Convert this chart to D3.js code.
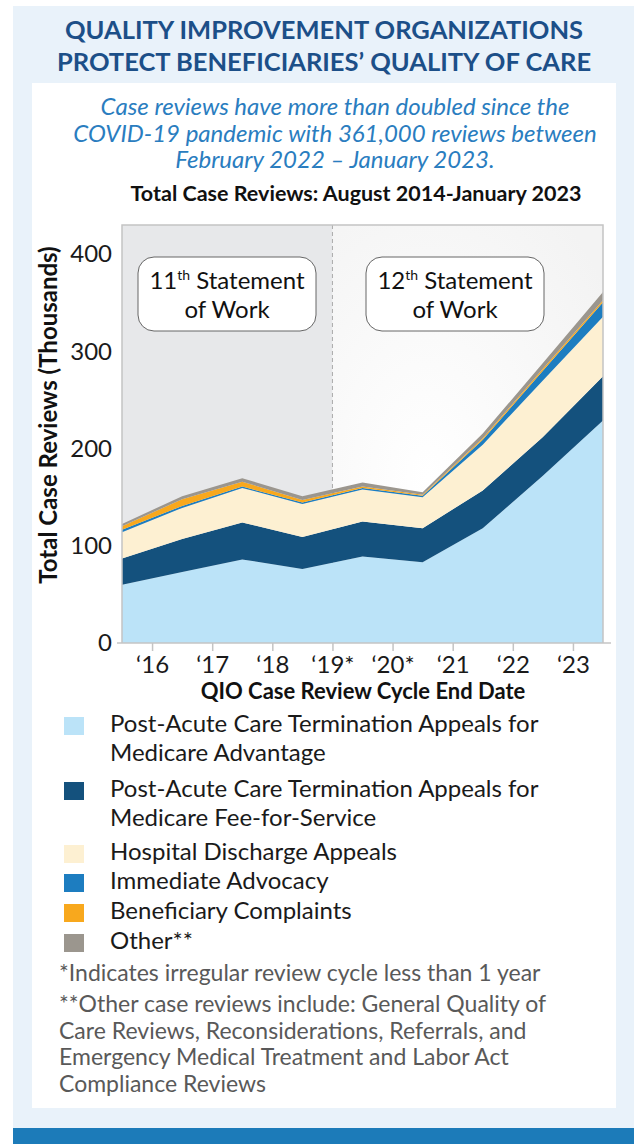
<!DOCTYPE html>
<html>
<head>
<meta charset="utf-8">
<script src="https://cdn.jsdelivr.net/npm/d3@7"></script>
<style>
  body { margin: 0; background: #fff; }
  text { font-family: Lato, "Open Sans", sans-serif; }
</style>
</head>
<body>
<div id="chart"></div>
<script>
// Chart data (thousands of case reviews per cycle)
var xTickLabels = ["\u201816", "\u201817", "\u201818", "\u201819*", "\u201820*", "\u201821", "\u201822", "\u201823"];
var medicareAdvantage = [60, 73, 86, 76, 89, 83, 118, 172, 229];
var feeForService = [27, 34, 38, 33, 36, 35, 39, 40, 45.5];
var dischargeAppeals = [27, 32, 35.5, 34, 33, 32, 47, 58, 61];
var immediateAdvocacy = [2.5, 2, 1.5, 1.5, 1.5, 1.5, 5, 10, 15];
var beneficiaryComplaints = [3.5, 7, 5, 2.5, 1.5, 1, 1.5, 2, 2];
var otherReviews = [2.5, 3, 3.5, 4, 4, 2.5, 5, 6, 8.5];
var yTicks = [0, 100, 200, 300, 400];

var seriesKeys = ["ma", "ffs", "hda", "ia", "bc", "other"];
var seriesColors = ["#bbe3f8", "#14517d", "#fdf0d2", "#1d7dc0", "#f8a81d", "#9b968e"];
var legendLabels = [
  ["Post-Acute Care Termination Appeals for", "Medicare Advantage"],
  ["Post-Acute Care Termination Appeals for", "Medicare Fee-for-Service"],
  ["Hospital Discharge Appeals"],
  ["Immediate Advocacy"],
  ["Beneficiary Complaints"],
  ["Other**"]
];

var rows = medicareAdvantage.map(function(d, i) {
  return {
    idx: i,
    ma: d,
    ffs: feeForService[i],
    hda: dischargeAppeals[i],
    ia: immediateAdvocacy[i],
    bc: beneficiaryComplaints[i],
    other: otherReviews[i]
  };
});

var svgWidth = 634;
var svgHeight = 1144;

var svg = d3
  .select("#chart")
  .append("svg")
  .attr("width", svgWidth)
  .attr("height", svgHeight);

var defs = svg.append("defs");
var glow = defs
  .append("radialGradient")
  .attr("id", "glow")
  .attr("cx", "35%")
  .attr("cy", "60%")
  .attr("r", "80%");
glow.append("stop").attr("offset", "0%").attr("stop-color", "#ffffff");
glow.append("stop").attr("offset", "100%").attr("stop-color", "#f3f3f3");

// background panels
svg.append("rect")
  .attr("x", 13).attr("y", 6)
  .attr("width", svgWidth - 13).attr("height", 1122)
  .attr("fill", "#e9f2fa");
svg.append("rect")
  .attr("x", 13).attr("y", 1128)
  .attr("width", svgWidth - 13).attr("height", 16)
  .attr("fill", "#1c7bb9");
svg.append("rect")
  .attr("x", 32).attr("y", 83)
  .attr("width", 584).attr("height", 1025)
  .attr("fill", "#ffffff");

// headline
svg.selectAll(".headline")
  .data(["QUALITY IMPROVEMENT ORGANIZATIONS", "PROTECT BENEFICIARIES\u2019 QUALITY OF CARE"])
  .enter()
  .append("text")
  .attr("x", 324)
  .attr("y", function(d, i) { return 39 + i * 31.5; })
  .attr("text-anchor", "middle")
  .attr("font-size", 25.5)
  .attr("font-weight", "bold")
  .attr("fill", "#1c4f88")
  .text(function(d) { return d; });

svg.selectAll(".subhead")
  .data([
    "Case reviews have more than doubled since the",
    "COVID-19 pandemic with 361,000 reviews between",
    "February 2022 \u2013 January 2023."
  ])
  .enter()
  .append("text")
  .attr("x", 335)
  .attr("y", function(d, i) { return 115 + i * 26.5; })
  .attr("text-anchor", "middle")
  .attr("font-size", 24)
  .attr("font-style", "italic")
  .attr("fill", "#2a7dbf")
  .text(function(d) { return d; });

svg.append("text")
  .attr("x", 356)
  .attr("y", 201)
  .attr("text-anchor", "middle")
  .attr("font-size", 21.5)
  .attr("font-weight", "bold")
  .attr("fill", "#111")
  .text("Total Case Reviews: August 2014-January 2023");

// chart area
var plot = { left: 122, right: 603, top: 225, bottom: 643 };

var xScale = d3.scaleLinear().domain([0, 8]).range([plot.left, plot.right]);
var yScale = d3.scaleLinear().domain([0, 430]).range([plot.bottom, plot.top]);

var chartGroup = svg.append("g");

// 11th SOW shaded part and 12th SOW part
chartGroup.append("rect")
  .attr("x", xScale(3.5)).attr("y", plot.top)
  .attr("width", plot.right - xScale(3.5)).attr("height", plot.bottom - plot.top)
  .attr("fill", "url(#glow)");
chartGroup.append("rect")
  .attr("x", plot.left).attr("y", plot.top)
  .attr("width", xScale(3.5) - plot.left).attr("height", plot.bottom - plot.top)
  .attr("fill", "#e7e8ea");

// dashed divider between statements of work (hidden under the areas)
chartGroup.append("line")
  .attr("x1", xScale(3.5)).attr("x2", xScale(3.5))
  .attr("y1", plot.top).attr("y2", plot.bottom)
  .attr("stroke", "#aaa")
  .attr("stroke-dasharray", "4,3");

var stacked = d3.stack().keys(seriesKeys)(rows);

var area = d3.area()
  .x(function(d) { return xScale(d.data.idx); })
  .y0(function(d) { return yScale(d[0]); })
  .y1(function(d) { return yScale(d[1]); });

chartGroup.selectAll(".layer")
  .data(stacked)
  .enter()
  .append("path")
  .attr("class", "layer")
  .attr("d", area)
  .attr("fill", function(d, i) { return seriesColors[i]; });

// plot frame
chartGroup.append("path")
  .attr("d", "M" + plot.left + "," + plot.bottom + "V" + plot.top + "H" + plot.right + "V" + plot.bottom)
  .attr("fill", "none")
  .attr("stroke", "#c4c4c4")
  .attr("stroke-width", 1.5);
chartGroup.append("line")
  .attr("x1", plot.left - 5).attr("x2", plot.right + 8)
  .attr("y1", plot.bottom).attr("y2", plot.bottom)
  .attr("stroke", "#c4c4c4")
  .attr("stroke-width", 1.5);

// axes
var leftAxis = d3.axisLeft(yScale).tickValues(yTicks).tickSize(0).tickPadding(10);
var yAxis = chartGroup.append("g")
  .attr("transform", "translate(" + plot.left + ",0)")
  .call(leftAxis);
yAxis.select(".domain").remove();
yAxis.selectAll("text")
  .attr("font-size", 24)
  .attr("fill", "#1a1a1a")
  .style("font-family", "Lato, sans-serif");

var bottomAxis = d3.axisBottom(xScale)
  .tickValues(d3.range(0.5, 8, 1))
  .tickFormat(function(d, i) { return xTickLabels[i]; })
  .tickSize(8)
  .tickPadding(5);
var xAxis = chartGroup.append("g")
  .attr("transform", "translate(0," + plot.bottom + ")")
  .call(bottomAxis);
xAxis.select(".domain").remove();
xAxis.selectAll("line").attr("stroke", "#c4c4c4").attr("stroke-width", 1.5);
xAxis.selectAll("text")
  .attr("font-size", 24)
  .attr("fill", "#1a1a1a")
  .style("font-family", "Lato, sans-serif");

chartGroup.append("text")
  .attr("x", 363)
  .attr("y", 699)
  .attr("text-anchor", "middle")
  .attr("font-size", 22)
  .attr("font-weight", "bold")
  .attr("fill", "#111")
  .text("QIO Case Review Cycle End Date");

chartGroup.append("text")
  .attr("transform", "translate(57," + 415 + ") rotate(-90)")
  .attr("text-anchor", "middle")
  .attr("font-size", 24)
  .attr("font-weight", "bold")
  .attr("fill", "#111")
  .text("Total Case Reviews (Thousands)");

// statement of work callouts
var callouts = [
  { num: "11", cx: 227 },
  { num: "12", cx: 455 }
];
callouts.forEach(function(c) {
  var g = chartGroup.append("g").attr("transform", "translate(" + c.cx + ",0)");
  g.append("rect")
    .attr("x", -89).attr("y", 257)
    .attr("width", 178).attr("height", 74)
    .attr("rx", 16)
    .attr("fill", "#ffffff")
    .attr("stroke", "#666")
    .attr("stroke-width", 1);
  var t = g.append("text")
    .attr("x", 0).attr("y", 289)
    .attr("text-anchor", "middle")
    .attr("font-size", 24)
    .attr("fill", "#111");
  t.append("tspan").text(c.num);
  t.append("tspan").attr("font-size", 14).attr("dy", -9).text("th");
  t.append("tspan").attr("dy", 9).text(" Statement");
  g.append("text")
    .attr("x", 0).attr("y", 318)
    .attr("text-anchor", "middle")
    .attr("font-size", 24)
    .attr("fill", "#111")
    .text("of Work");
});

// legend
var legendRows = [732, 797, 860, 889, 919, 949];
var legend = svg.selectAll(".legend")
  .data(legendLabels)
  .enter()
  .append("g")
  .attr("class", "legend")
  .attr("transform", function(d, i) { return "translate(0," + legendRows[i] + ")"; });

legend.append("rect")
  .attr("x", 64).attr("y", -15)
  .attr("width", 20).attr("height", 18)
  .attr("fill", function(d, i) { return seriesColors[i]; });

legend.each(function(lines) {
  d3.select(this).selectAll("text")
    .data(lines)
    .enter()
    .append("text")
    .attr("x", 110)
    .attr("y", function(d, j) { return j * 28.5; })
    .attr("font-size", 24)
    .attr("fill", "#1a1a1a")
    .text(function(d) { return d; });
});

// footnotes
var footnotes = [
  "*Indicates irregular review cycle less than 1 year",
  "**Other case reviews include: General Quality of",
  "Care Reviews, Reconsiderations, Referrals, and",
  "Emergency Medical Treatment and Labor Act",
  "Compliance Reviews"
];
var footY = [981, 1012, 1038.5, 1065, 1091.5];
svg.selectAll(".foot")
  .data(footnotes)
  .enter()
  .append("text")
  .attr("x", 59)
  .attr("y", function(d, i) { return footY[i]; })
  .attr("font-size", 23)
  .attr("fill", "#595959")
  .text(function(d) { return d; });
</script>
</body>
</html>
